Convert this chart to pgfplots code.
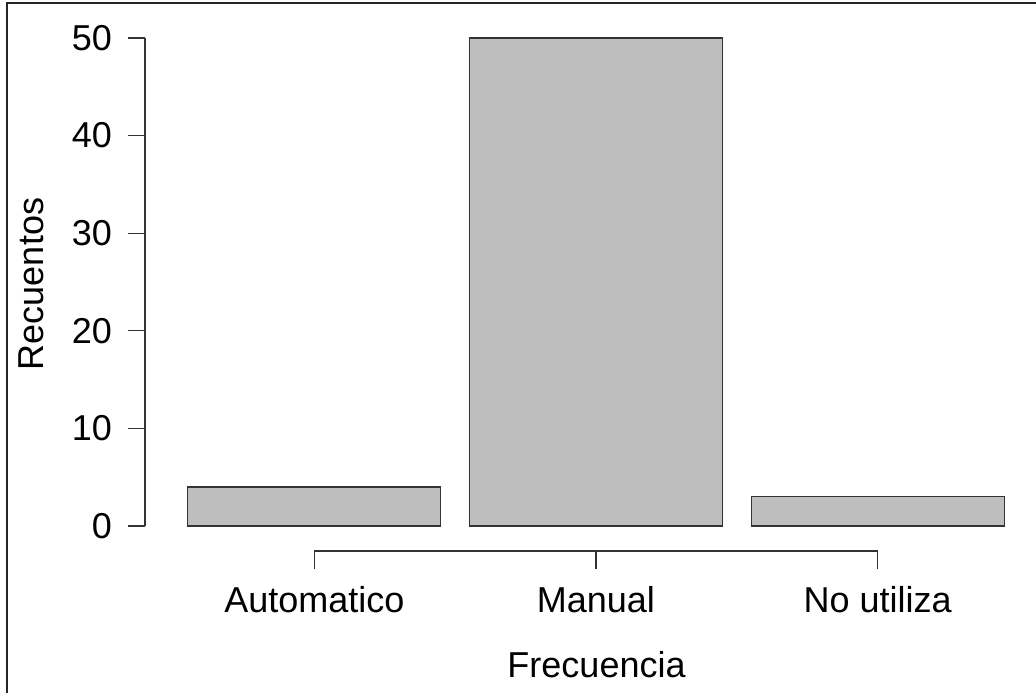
\documentclass[border=0pt]{standalone}
\usepackage{fontspec}
\setmainfont{Liberation Sans}
\usepackage{pgfplots}
\pgfplotsset{compat=1.18}
\definecolor{bargray}{HTML}{BEBEBE}
\definecolor{edge}{HTML}{333333}
\begin{document}
\begin{tikzpicture}
\useasboundingbox (0,0) rectangle (1036bp,-693bp);
\fill[white] (0,0) rectangle (1036bp,-693bp);
\draw[line width=1.6bp, black!85] (7bp,-693bp) -- (7bp,-3bp) -- (1036bp,-3bp);
\begin{axis}[
 at={(145bp,-551bp)}, anchor=south west,
 scale only axis, width=865bp, height=513bp,
 xmin=-0.6011, xmax=2.4699, ymin=-2.5615, ymax=50,
 axis x line*=bottom, axis y line*=left,
 axis line style={draw=none},
 major tick length=0pt,
 xtick={0,1,2}, xticklabels={Automatico,Manual,No utiliza},
 ytick={0,10,20,30,40,50},
 /pgf/number format/assume math mode=true,
 tick label style={font=\fontsize{36bp}{43bp}\selectfont, inner sep=0pt},
 yticklabel style={anchor=east, xshift=-33bp},
 xticklabel style={anchor=base, yshift=-61bp},
 xlabel={Frecuencia}, ylabel={Recuentos},
 label style={font=\fontsize{36bp}{43bp}\selectfont, inner sep=0pt},
 xlabel style={at={(axis description cs:0.522,-0.2456)}, anchor=base},
 ylabel style={at={(axis description cs:-0.1179,0.5205)}, anchor=base},
 clip=false,
]
\addplot[ybar, bar width=253bp, bar shift=0pt, fill=bargray, draw=edge, line width=1.2bp]
  coordinates {(0,4) (1,50) (2,3)};
\draw[edge, line width=1.2bp] (axis cs:-0.6011,0) -- (axis cs:-0.6011,50);
\pgfplotsinvokeforeach{0,10,20,30,40,50}{
  \draw[edge, line width=1.2bp] (axis cs:-0.6011,#1) -- (axis cs:-0.6615,#1);
}
\draw[edge, line width=1.2bp] (axis cs:0,-2.5615) -- (axis cs:2,-2.5615);
\pgfplotsinvokeforeach{0,1,2}{
  \draw[edge, line width=1.2bp] (axis cs:#1,-2.5615) -- (axis cs:#1,-4.406);
}
\end{axis}
\end{tikzpicture}
\end{document}
